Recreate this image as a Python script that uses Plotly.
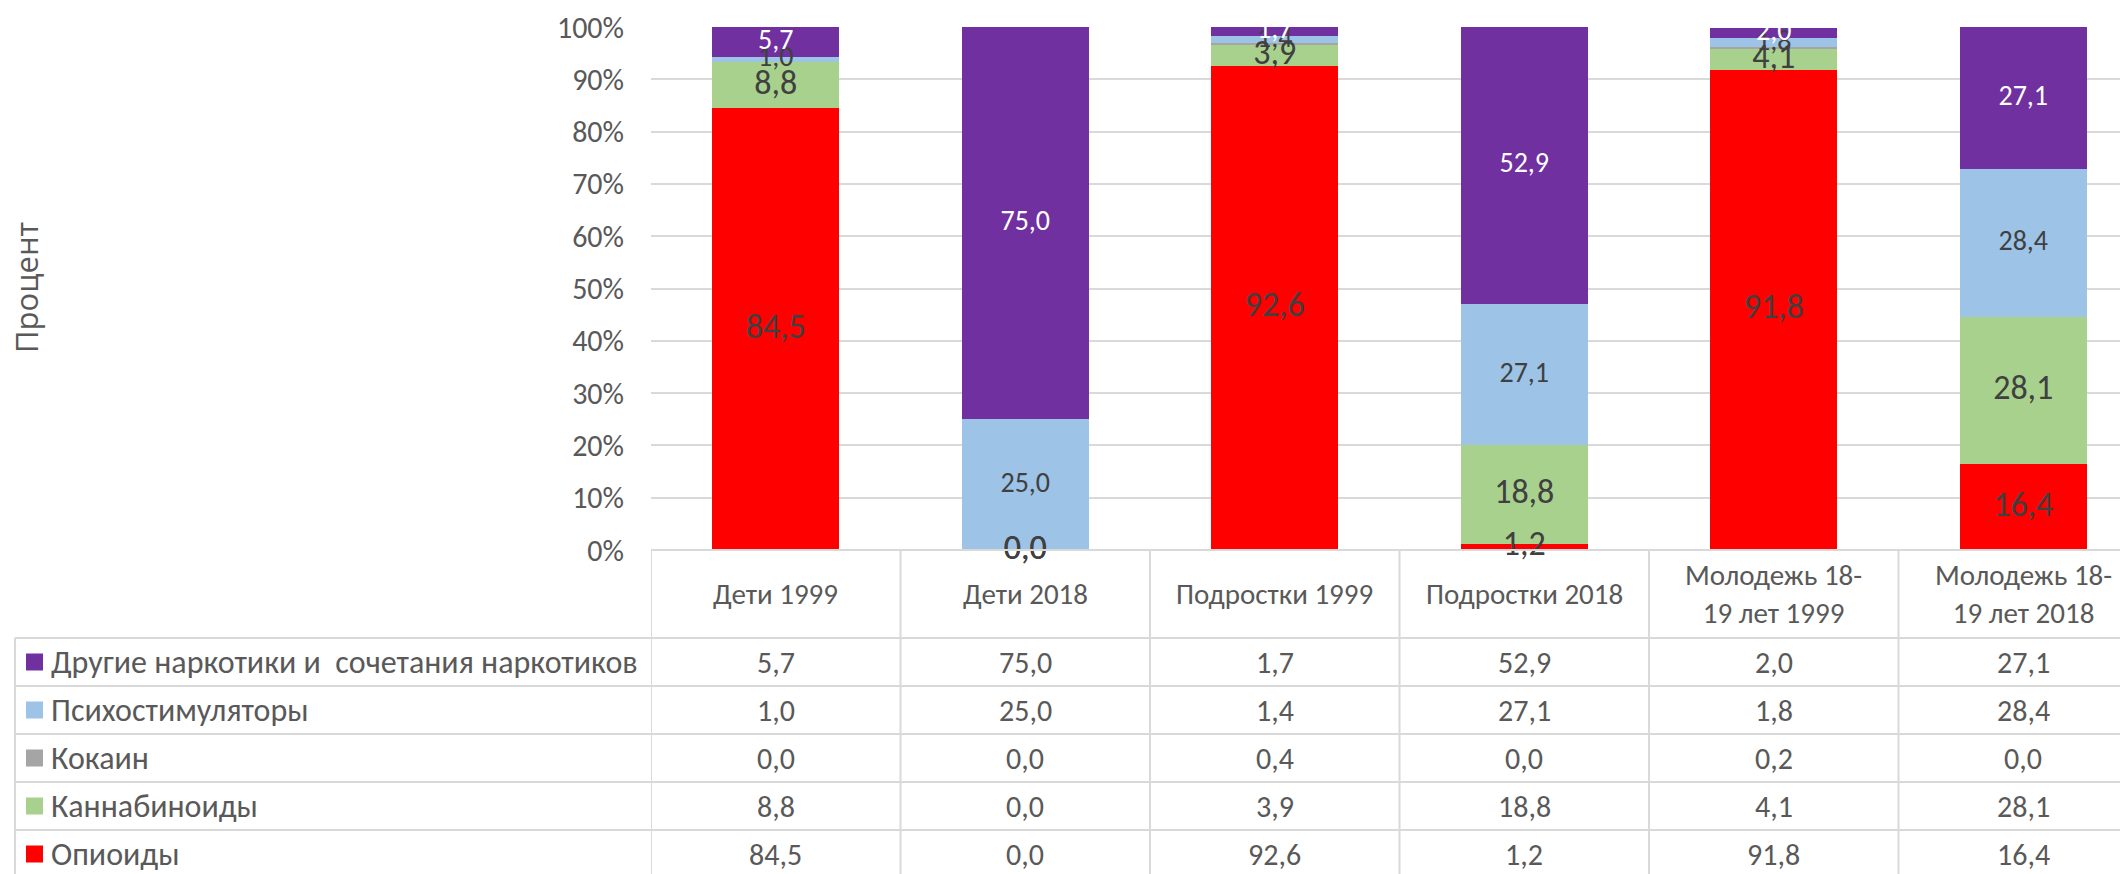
import plotly.graph_objects as go

# данные
categories = ["Дети 1999", "Дети 2018", "Подростки 1999", "Подростки 2018",
              "Молодежь 18-<br>19 лет 1999", "Молодежь 18-<br>19 лет 2018"]
series_names = ["Опиоиды", "Каннабиноиды", "Кокаин", "Психостимуляторы",
                "Другие наркотики и \u00a0сочетания наркотиков"]
opioids = [84.5, 0.0, 92.6, 1.2, 91.8, 16.4]
cannabis = [8.8, 0.0, 3.9, 18.8, 4.1, 28.1]
cocaine = [0.0, 0.0, 0.4, 0.0, 0.2, 0.0]
stimulants = [1.0, 25.0, 1.4, 27.1, 1.8, 28.4]
other = [5.7, 75.0, 1.7, 52.9, 2.0, 27.1]

values = [opioids, cannabis, cocaine, stimulants, other]
colors = ["#FF0000", "#A9D18E", "#A5A5A5", "#9DC3E6", "#7030A0"]
label_colors = ["#404040", "#404040", None, "#404040", "#FFFFFF"]
label_sizes = [34, 34, 0, 28, 28]

# страница имеет отступ body 8px, поэтому всё сдвинуто на 8px
OFF = 8
W, H = 2128 - OFF, 874 - OFF
L, T, B = 651 - OFF, 27 - OFF, 550 - OFF
COLW = 249.5
FONT = "Carlito, Calibri, Lato, sans-serif"
GREY = "#595959"
LINE = "#D9D9D9"


def fmt(v):
    return f"{v:.1f}".replace(".", ",")


def py(p):
    return (B - (p - OFF)) / (B - T)


def px(p):
    return ((p - OFF) - L) / (W - L)


x = list(range(len(categories)))
fig = go.Figure()

# столбцы
for name, vals, col in zip(series_names, values, colors):
    fig.add_trace(go.Bar(x=x, y=vals, name=name, marker=dict(color=col, line=dict(width=0)),
                         width=0.51, showlegend=False, hoverinfo="skip"))

# подписи данных
base = [0.0] * len(x)
for vals, lc, ls in zip(values, label_colors, label_sizes):
    mids = [b + v / 2 for b, v in zip(base, vals)]
    if lc is not None:
        fig.add_trace(go.Scatter(x=x, y=mids, mode="text", text=[fmt(v) for v in vals],
                                 textfont=dict(family=FONT, size=ls, color=lc),
                                 cliponaxis=False, showlegend=False, hoverinfo="skip"))
    base = [b + v for b, v in zip(base, vals)]

# таблица данных
shapes = []
row_tops = [638, 686, 734, 782, 830, 878]
shapes.append(dict(type="line", xref="paper", yref="paper", x0=0, x1=1.02,
                   y0=0, y1=0, line=dict(color=LINE, width=2)))
for r in row_tops[:-1]:
    shapes.append(dict(type="line", xref="paper", yref="paper", x0=px(15), x1=1.02,
                       y0=py(r), y1=py(r), line=dict(color=LINE, width=2)))
for i in range(len(categories) + 1):
    shapes.append(dict(type="line", xref="x", yref="paper", x0=i - 0.5, x1=i - 0.5,
                       y0=0, y1=py(890), line=dict(color=LINE, width=2)))
shapes.append(dict(type="line", xref="paper", yref="paper", x0=px(15), x1=px(15),
                   y0=py(638), y1=py(890), line=dict(color=LINE, width=2)))

annotations = []
for i, c in enumerate(categories):
    annotations.append(dict(x=i, y=py(594), xref="x", yref="paper", text=c, showarrow=False,
                            font=dict(family=FONT, size=29, color=GREY),
                            xanchor="center", yanchor="middle"))

table_rows = list(zip(series_names, values, colors))[::-1]
for k, (name, vals, col) in enumerate(table_rows):
    cy = row_tops[k] + 24
    shapes.append(dict(type="rect", xref="paper", yref="paper", x0=px(26), x1=px(43),
                       y0=py(cy - 8.5), y1=py(cy + 8.5), fillcolor=col, line=dict(width=0)))
    annotations.append(dict(x=px(49), y=py(cy), xref="paper", yref="paper", text=name,
                            showarrow=False, xanchor="left", yanchor="middle",
                            font=dict(family=FONT, size=32, color=GREY)))
    for i, v in enumerate(vals):
        annotations.append(dict(x=i, y=py(cy), xref="x", yref="paper", text=fmt(v),
                                showarrow=False, xanchor="center", yanchor="middle",
                                font=dict(family=FONT, size=30, color=GREY)))

# подпись оси Y
annotations.append(dict(x=px(26), y=py(288), xref="paper", yref="paper", text="Процент",
                        textangle=-90, showarrow=False, xanchor="center", yanchor="middle",
                        font=dict(family="Open Sans, sans-serif", size=31, color=GREY)))

fig.update_layout(
    width=W, height=H,
    barmode="stack",
    plot_bgcolor="white", paper_bgcolor="white",
    margin=dict(l=L, r=0, t=T, b=H - B),
    shapes=shapes, annotations=annotations,
    xaxis=dict(range=[-0.5, -0.5 + (W - L) / COLW], showticklabels=False, showgrid=False,
               zeroline=False, showline=False, fixedrange=True),
    yaxis=dict(range=[0, 100], dtick=10, ticksuffix="%", showgrid=True, gridcolor=LINE,
               gridwidth=2, zeroline=False, showline=False, ticklabelstandoff=26,
               ticklabeloverflow="allow",
               tickfont=dict(family=FONT, size=30, color=GREY), fixedrange=True),
    bargap=0,
)

fig.write_html("out.html")
